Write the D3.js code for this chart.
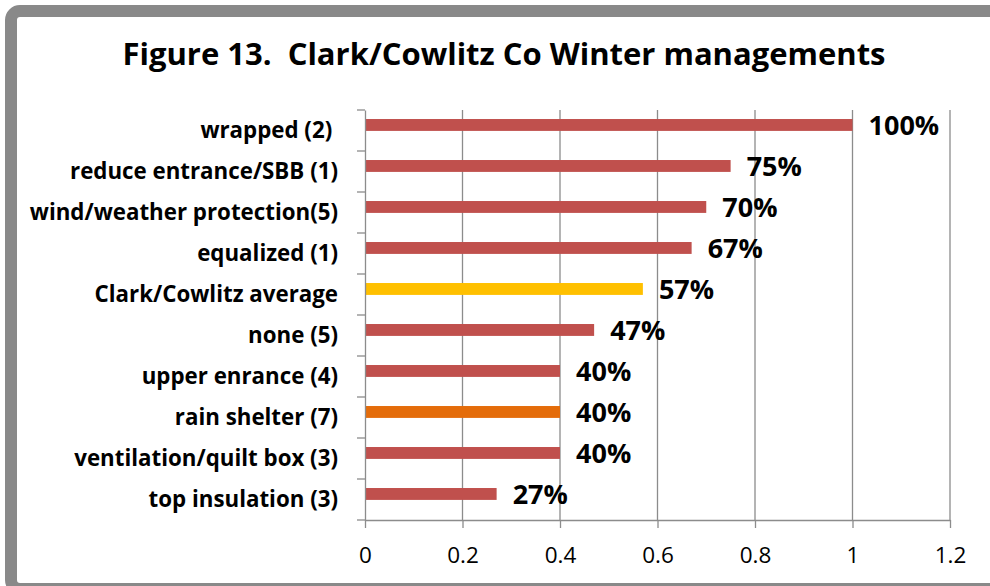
<!DOCTYPE html>
<html>
<head>
<meta charset="utf-8">
<script src="https://cdn.jsdelivr.net/npm/d3@7"></script>
<style>
  body { margin: 0; background: #fff; }
  text { white-space: pre; }
</style>
</head>
<body>
<div id="chart"></div>
<script>
// chart data
const categories = [
  "wrapped (2) ",
  "reduce entrance/SBB (1)",
  "wind/weather protection(5)",
  "equalized (1)",
  "Clark/Cowlitz average",
  "none (5)",
  "upper enrance (4)",
  "rain shelter (7)",
  "ventilation/quilt box (3)",
  "top insulation (3)"
];
const values = [1.0, 0.75, 0.70, 0.67, 0.57, 0.47, 0.40, 0.40, 0.40, 0.27];
const barColors = ["#C0504D", "#C0504D", "#C0504D", "#C0504D", "#FFC000",
                   "#C0504D", "#C0504D", "#E46C0A", "#C0504D", "#C0504D"];
const xTicks = [0, 0.2, 0.4, 0.6, 0.8, 1, 1.2];

const W = 990, H = 586;
const plot = {left: 365, right: 950, top: 110, bottom: 520};

let svg = d3.select("#chart")
    .append("svg")
    .attr("width", W)
    .attr("height", H);

// outer frame (cut by the window on right and bottom)
svg.append("rect")
    .attr("x", 11).attr("y", 11)
    .attr("width", 995).attr("height", 578)
    .attr("rx", 9)
    .attr("fill", "#fff")
    .attr("stroke", "#898989")
    .attr("stroke-width", 12);

svg.append("text")
    .attr("x", 504).attr("y", 65)
    .attr("text-anchor", "middle")
    .style("font-family", "'Open Sans', sans-serif")
    .style("font-weight", "bold")
    .style("font-size", "31px")
    .text("Figure 13.  Clark/Cowlitz Co Winter managements");

var x = d3.scaleLinear().domain([0, 1.2]).range([plot.left, plot.right]);
var y = d3.scaleBand().domain(categories).range([plot.top, plot.bottom]);
var bw = y.bandwidth();

// vertical gridlines
svg.selectAll(".grid")
    .data(xTicks.slice(1))
    .enter().append("line")
    .attr("class", "grid")
    .attr("x1", d => x(d)).attr("x2", d => x(d))
    .attr("y1", plot.top).attr("y2", plot.bottom)
    .style("stroke", "#8c8c8c")
    .style("stroke-width", 1.3);

// bars
svg.selectAll(".bar")
    .data(values)
    .enter().append("rect")
    .attr("class", "bar")
    .attr("x", x(0))
    .attr("y", (d, i) => y(categories[i]) + bw * 0.22)
    .attr("width", d => x(d) - x(0))
    .attr("height", bw * 0.29)
    .attr("fill", (d, i) => barColors[i]);

// data labels
svg.selectAll(".lbl")
    .data(values)
    .enter().append("text")
    .attr("class", "lbl")
    .attr("x", d => x(d) + 16)
    .attr("y", (d, i) => y(categories[i]) + bw * 0.365)
    .attr("dy", "0.36em")
    .style("font-family", "'Open Sans', sans-serif")
    .style("font-weight", "bold")
    .style("font-size", "27px")
    .text(d => d3.format(".0%")(d));

// x axis
var xAxis = svg.append("g")
    .attr("transform", "translate(0," + plot.bottom + ")")
    .call(d3.axisBottom(x).tickValues(xTicks).tickFormat(d3.format("~g"))
        .tickSize(8).tickPadding(19).tickSizeOuter(0));
xAxis.select(".domain").style("stroke", "#8c8c8c").style("stroke-width", 1.3);
xAxis.selectAll(".tick line").style("stroke", "#8c8c8c").style("stroke-width", 1.3);
xAxis.selectAll("text")
    .style("font-family", "'Open Sans', sans-serif")
    .style("font-size", "22.5px")
    .style("fill", "#000");

// y axis: labels at band centres, ticks at band edges
var yAxis = svg.append("g")
    .attr("transform", "translate(" + plot.left + ",0)")
    .call(d3.axisLeft(y).tickSize(0).tickPadding(27));
yAxis.select(".domain").style("stroke", "#8c8c8c").style("stroke-width", 1.3);
yAxis.selectAll("text")
    .style("font-family", "'Open Sans', sans-serif")
    .style("font-weight", "bold")
    .style("font-size", "22.3px")
    .style("fill", "#000");

var edges = categories.map(c => y(c)).concat([plot.bottom]);
svg.selectAll(".ytick")
    .data(edges)
    .enter().append("line")
    .attr("class", "ytick")
    .attr("x1", plot.left - 8).attr("x2", plot.left)
    .attr("y1", d => d).attr("y2", d => d)
    .style("stroke", "#8c8c8c")
    .style("stroke-width", 1.3);
</script>
</body>
</html>
